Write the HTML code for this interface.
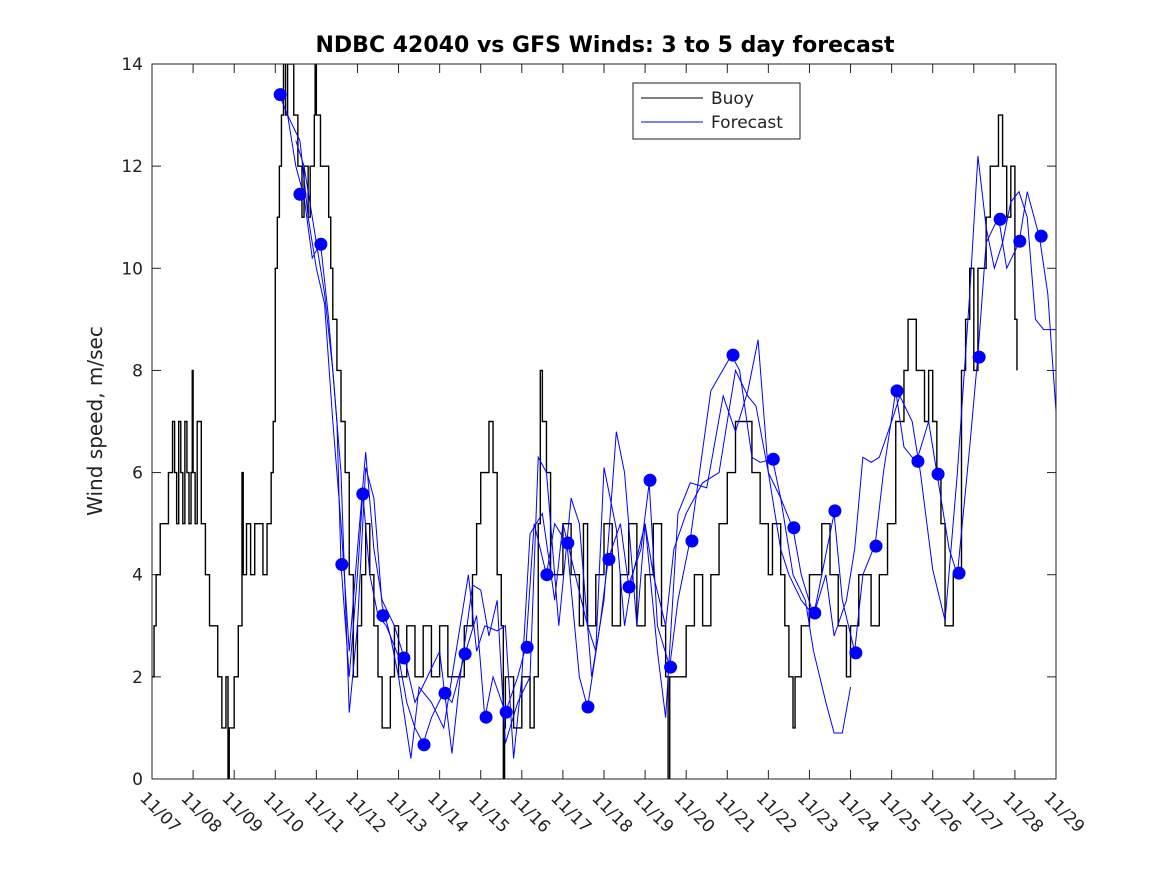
<!DOCTYPE html>
<html><head><meta charset="utf-8"><style>
body{margin:0;background:#fff;}
svg{display:block;font-family:"DejaVu Sans","Liberation Sans",sans-serif;}
</style></head><body>
<svg id="chart" width="1167" height="875">
<rect x="0" y="0" width="1167" height="875" fill="#fff"/>
<text x="605" y="52" text-anchor="middle" font-size="22" font-weight="bold">NDBC 42040 vs GFS Winds: 3 to 5 day forecast</text>
<text transform="translate(102,421) rotate(-90)" text-anchor="middle" font-size="20" fill="#222">Wind speed, m/sec</text>
<g id="plot"></g>
<rect x="152" y="64" width="904" height="715" fill="none" stroke="#222" stroke-width="1"/>
<g>
<rect x="633" y="83" width="167" height="56" fill="#fff" stroke="#222"/>
<line x1="641" y1="98" x2="703" y2="98" stroke="#000"/>
<text x="711" y="104" font-size="17" fill="#222">Buoy</text>
<line x1="641" y1="122" x2="703" y2="122" stroke="#00f"/>
<text x="711" y="128" font-size="17" fill="#222">Forecast</text>
</g>
</svg>
<script>
const xTickLabels=["11/07","11/08","11/09","11/10","11/11","11/12","11/13","11/14","11/15","11/16","11/17","11/18","11/19","11/20","11/21","11/22","11/23","11/24","11/25","11/26","11/27","11/28","11/29"];
const yTicks=[0,2,4,6,8,10,12,14];
const buoyDays=[0,0.05,0.1,0.2,0.3,0.4,0.5,0.55,0.6,0.65,0.7,0.75,0.8,0.85,0.9,0.95,0.98,1.0,1.05,1.1,1.2,1.3,1.4,1.5,1.6,1.7,1.8,1.85,1.88,1.9,2.0,2.1,2.19,2.22,2.3,2.4,2.5,2.6,2.7,2.8,2.9,2.95,
3.0,3.05,3.1,3.15,3.2,3.25,3.3,3.45,3.55,3.65,3.7,3.8,3.85,3.95,3.97,4.0,4.1,4.25,4.3,4.35,
4.4,4.5,4.6,4.7,4.8,4.9,5.0,5.1,5.2,5.3,5.4,5.5,5.6,5.8,5.9,6.0,6.2,6.4,6.6,6.8,7.0,7.2,7.4,7.6,7.8,7.9,8.0,8.2,8.3,8.4,8.5,8.55,8.58,8.6,8.8,9.0,9.2,9.3,9.4,9.45,9.5,9.6,9.7,9.8,10.0,10.2,10.4,10.5,10.6,10.8,11.0,11.2,11.4,11.6,11.8,12.0,12.2,12.4,12.5,12.56,12.6,12.8,
13.0,13.2,13.4,13.6,13.8,14.0,14.2,14.3,14.6,14.8,15.0,15.1,15.3,15.4,15.5,15.6,15.65,15.8,16.0,16.3,16.5,16.7,16.9,17.0,17.2,17.5,17.7,17.9,18.1,18.3,18.4,18.6,18.8,18.9,19.0,19.1,19.2,19.3,19.5,19.7,19.8,19.9,20.0,20.1,20.3,20.4,20.6,20.7,20.8,20.9,21.0,21.05];
const buoyValues=[2,3,4,5,5,6,7,6,5,7,6,5,7,6,5,6,8,6,5,7,5,4,3,3,2,1,2,0,1,1,2,3,6,4,5,4,5,5,4,5,6,7,
10,11,12,13,14,13,14,13,12,11,12,11,12,13,14,13,12,12,11,10,
9,8,7,6,4,2,3,4,5,4,3,2,1,2,3,2,3,2,3,2,3,2,2,3,4,5,6,7,6,4,3,0,1,2,1,2,1,2,5,8,7,6,4,4,5,4,3,5,3,4,5,3,4,5,3,4,5,3,2,0,2,2,
3,4,3,4,5,6,7,7,6,5,4,5,4,3,2,1,2,3,4,5,4,3,2,3,4,3,4,5,7,8,9,8,7,8,7,6,5,3,4,8,9,10,8,10,11,12,13,12,11,12,9,8];
const fcDays1=[3.1,3.3,3.5,3.7,3.9,4.1,4.3,4.5,4.6,4.8,5.0,5.13,5.3,5.5,5.7,6.0,6.2,6.4,6.6,6.8,7.1,7.3,7.6,7.9,8.1,8.3,8.6,8.9,9.1,9.3,9.6,9.8,10.1,10.4,10.6,10.9,11.1,11.4,11.6,11.9,12.1,12.3,12.6,12.8,13.1,13.6,14.1,14.3,14.6,14.8,15.1,15.3,15.6,15.8,16.1,16.3,16.6,16.8,17.1,17.3,17.6,17.8,18.1,18.3,18.6,18.9,19.1,19.4,19.6,19.9,20.1,20.3,20.6,20.8,21.1,21.3,21.6,21.8,22];
const fcVals1=[13.4,13,12,11.4,10.2,10.5,9,7,4.2,2,4,5.6,4,3.2,3,2.4,1.5,1,0.7,1.2,1.7,1.5,2.4,3.2,1.2,2,1.3,2,2.6,5,4,5,4.6,2,1.4,3,4.3,5,3.8,4.5,5.8,3,2.2,3.5,4.7,7.6,8.3,8,6.3,6.2,6.26,5.5,4.9,4,3.2,4,5.2,3.5,2.5,4,4.6,6,7.6,6.5,6.2,7,6,4.5,4,6.5,8.3,10.5,11,10,10.5,11.5,10.6,9.5,7.2];
const fcDays2=[3.3,3.6,3.8,4.0,4.2,4.4,4.6,4.8,5.0,5.2,5.4,5.6,5.9,6.2,6.4,6.7,7.0,7.3,7.5,7.8,8.0,8.2,8.4,8.6,8.9,9.2,9.4,9.6,9.9,10.2,10.4,10.7,11.0,11.3,11.5,11.8,12.0,12.3,12.5,12.8,13.1,13.5,13.9,14.2,14.5,14.75,15.0,15.3,15.6,15.9,16.1,16.4,16.6,16.8,17.0];
const fcVals2=[13,12.5,11,10,9.3,7,5,2.5,4.5,6.4,4.5,3.5,3,2.2,1.5,2,2.5,0.5,2,3.8,3.7,2.8,3.5,0.7,1.5,2,6.3,6,3,5.5,5,2,3.5,6.8,6,3,5,2.5,1.2,5.2,5.8,5.7,7.5,6.8,7.6,8.6,6,5.5,4,3.5,2.5,1.5,0.9,0.9,1.8];
const fcDays3=[3.5,3.7,3.9,4.2,4.4,4.6,4.8,5.0,5.2,5.4,5.6,5.8,6.0,6.3,6.5,6.8,7.1,7.4,7.7,7.9,8.1,8.4,8.6,8.8,9.0,9.2,9.5,9.8,10.0,10.3,10.6,10.8,11.0,11.3,11.5,11.7,12.0,12.2,12.5,12.7,13.0,13.4,13.8,14.2,14.5,14.7,15.0,15.3,15.5,15.8,16.1,16.4,16.6,16.9,17.1,17.3,17.5,17.7,18.0,18.2,18.5,18.7,19.0,19.3,19.6,19.9,20.1,20.3,20.5,20.7,20.9,21.1,21.3,21.5,21.7,22];
const fcVals3=[12.5,12,11,9.5,8,6,1.3,3,6.1,5.5,3.4,2.8,2,0.4,1.8,1.5,1,2.5,4,2.5,3,2.9,3,0.4,2,4.8,5.2,3.5,5,4,3,2.5,6.1,4.9,3,4,5,4,3,4.5,5.2,5.8,6,8,7.5,7.3,6,4.5,4,3.5,3.2,4,2.8,3.5,4.5,6.3,6.2,6.3,7,7.5,7,6,4.1,3.1,6,9.5,12.2,10.8,10,10.5,11.3,11.5,11,9,8.8,8.8];
const dotDays=[3.12,3.6,4.11,4.62,5.13,5.62,6.13,6.62,7.13,7.62,8.13,8.62,9.13,9.61,10.12,10.61,11.12,11.61,12.12,12.62,13.14,14.14,15.12,15.62,16.13,16.62,17.13,17.62,18.13,18.64,19.13,19.64,20.13,20.64,21.12,21.64];
const dotVals=[13.4,11.45,10.47,4.2,5.58,3.2,2.37,0.67,1.68,2.45,1.21,1.31,2.58,4.0,4.62,1.41,4.3,3.76,5.85,2.19,4.66,8.3,6.26,4.92,3.25,5.25,2.47,4.56,7.6,6.22,5.97,4.03,8.26,10.96,10.53,10.63];

const NS="http://www.w3.org/2000/svg";
const X0=152,X1=1056,Y0=779,Y1=64;
function xs(d){return X0+(X1-X0)*d/22;}
function ys(v){return Y0-(Y0-Y1)*v/14;}
const svg=document.getElementById('chart');
const plot=document.getElementById('plot');
function mk(tag,attrs,parent){const e=document.createElementNS(NS,tag);for(const k in attrs)e.setAttribute(k,attrs[k]);(parent||plot).appendChild(e);return e;}

yTicks.forEach(v=>{
  const y=ys(v);
  const t=mk('line',{x1:X0,y1:y,x2:X0+9,y2:y,stroke:'#222'});
  
  
  const t2=mk('line',{x1:X1,y1:y,x2:X1-9,y2:y,stroke:'#222'});
  
  
  const l=mk('text',{x:X0-9,y:y+6,'text-anchor':'end','font-size':17,fill:'#222'},svg);
  l.textContent=v;
  
  
});
xTickLabels.forEach((s,i)=>{
  const x=xs(i);
  const t=mk('line',{x1:x,y1:Y0,x2:x,y2:Y0-9,stroke:'#222'});
  
  
  const t2=mk('line',{x1:x,y1:Y1,x2:x,y2:Y1+9,stroke:'#222'});
  
  
  const l=mk('text',{transform:`translate(${x-13},${Y0+20}) rotate(45)`,'font-size':17,fill:'#222'},svg);
  l.textContent=s;
  
  
});
const clip=mk('clipPath',{id:'pc'},svg);
mk('rect',{x:X0,y:Y1,width:X1-X0,height:Y0-Y1},clip);
const g=mk('g',{'clip-path':'url(#pc)'});
let d='';
buoyDays.forEach((day,i)=>{
  const x=xs(day),y=ys(buoyValues[i]);
  if(i===0)d+=`M${x},${y}`;else d+=`H${x}V${y}`;
});
const bp=mk('path',{d:d,fill:'none',stroke:'#000','stroke-width':1.4},g);


[[fcDays1,fcVals1],[fcDays2,fcVals2],[fcDays3,fcVals3]].forEach((s,k)=>{
  const pts=s[0].map((day,i)=>xs(day)+','+ys(s[1][i])).join(' ');
  const p=mk('polyline',{points:pts,fill:'none',stroke:'#00f','stroke-width':1},g);
  
  
});
dotDays.forEach((day,i)=>{
  const c=mk('circle',{cx:xs(day),cy:ys(dotVals[i]),r:6.5,fill:'#00f'},g);
  
  
});
</script>
</body></html>
